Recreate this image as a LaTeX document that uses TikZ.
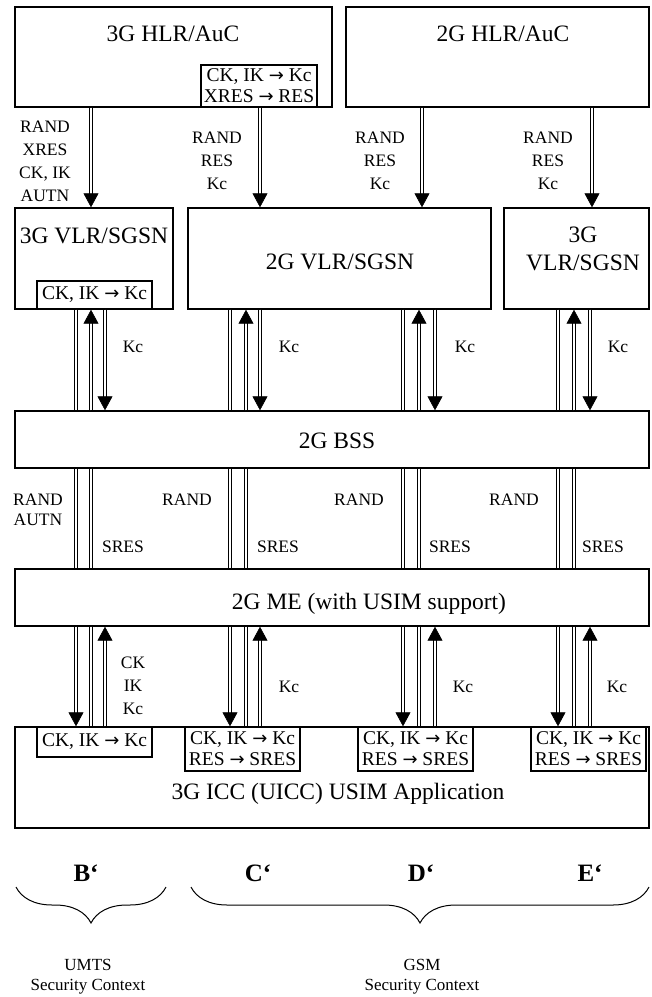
\documentclass[tikz,border=0pt]{standalone}
\usepackage{fontspec}
\setmainfont{Liberation Serif}
\newfontfamily\arrowfont{DejaVu Sans}
\usetikzlibrary{arrows.meta,decorations.pathreplacing,decorations.markings}
\newcommand{\cto}{{\arrowfont\fontsize{18}{18}\selectfont →}}

\begin{document}
\begin{tikzpicture}[
    x=1pt, y=-1pt,
    box/.style={draw, line width=1.4pt, inner sep=0pt},
    conv/.style={draw, line width=1.2pt, fill=white, align=center, inner sep=1pt, font=\fontsize{19.5}{21}\selectfont},
    big/.style={align=center, font=\fontsize{23.5}{28}\selectfont},
    lbl/.style={align=center, font=\fontsize{17.5}{23}\selectfont},
    pipe/.style={double, double distance=2pt, line width=1.2pt},
    arrow/.style={pipe, shorten >=11pt, postaction={decorate, decoration={markings,
        mark=at position 1 with {\arrow[line width=0.6pt]{Triangle[width=15pt, length=14pt]}}}}},
    ctx/.style={font=\fontsize{25}{25}\selectfont\bfseries},
    brace/.style={line width=1pt, decorate, decoration={brace, mirror, amplitude=36pt}}
]
\useasboundingbox (0,0) rectangle (652,997);

% network elements
\node[box, minimum width=317pt, minimum height=100pt] (hlr3) at (173.5,57) {};
\node[box, minimum width=303pt, minimum height=100pt] (hlr2) at (497.5,57) {};
\node[box, minimum width=158pt, minimum height=101pt] (vlr3) at (94,258.5) {};
\node[box, minimum width=303pt, minimum height=101pt] (vlr2) at (339.5,258.5) {};
\node[box, minimum width=145pt, minimum height=101pt] (vlr3b) at (576.5,258.5) {};
\node[box, minimum width=634pt, minimum height=57pt] (bss) at (332,439.5) {};
\node[box, minimum width=634pt, minimum height=57pt] (me) at (332,597.5) {};
\node[box, minimum width=634pt, minimum height=101pt] (icc) at (332,777.5) {};

\node[big] (thlr3) at (173,34) {3G HLR/AuC};
\node[big] (thlr2) at (503,34) {2G HLR/AuC};
\node[big] (tvlr3) at (94,236) {3G VLR/SGSN};
\node[big] (tvlr2) at (340,262) {2G VLR/SGSN};
\node[big] (tvlr3b) at (583,249) {3G\\VLR/SGSN};
\node[big] (tbss) at (337,441) {2G BSS};
\node[big] (tme) at (369,604) {2G ME (with USIM support)};
\node[big] (ticc) at (338,794) {3G ICC (UICC) USIM Application};

% conversion functions
\node[conv, minimum width=116pt, minimum height=42pt] (cvhlr) at (259,86) {CK, IK \cto{} Kc\\XRES \cto{} RES};
\node[conv, minimum width=115pt, minimum height=28pt] (cvvlr) at (94.5,295) {CK, IK \cto{} Kc};
\node[conv, minimum width=115pt, minimum height=30pt] (cvu1) at (94.5,742) {CK, IK \cto{} Kc};
\node[conv, minimum width=115pt, minimum height=44pt] (cvu2) at (242.5,749) {CK, IK \cto{} Kc\\RES \cto{} SRES};
\node[conv, minimum width=115pt, minimum height=44pt] (cvu3) at (415.5,749) {CK, IK \cto{} Kc\\RES \cto{} SRES};
\node[conv, minimum width=115pt, minimum height=44pt] (cvu4) at (588.5,749) {CK, IK \cto{} Kc\\RES \cto{} SRES};

% columns
\coordinate (d1) at (91,0);  \coordinate (d2) at (260,0);
\coordinate (d3) at (422,0); \coordinate (d4) at (592,0);
\coordinate (a1) at (76,0);  \coordinate (b1) at (91,0);  \coordinate (c1) at (105,0);
\coordinate (a2) at (230,0); \coordinate (b2) at (246,0); \coordinate (c2) at (260,0);
\coordinate (a3) at (403,0); \coordinate (b3) at (419,0); \coordinate (c3) at (435,0);
\coordinate (a4) at (558,0); \coordinate (b4) at (574,0); \coordinate (c4) at (590,0);

% HLR -> VLR
\draw[arrow] (hlr3.south -| d1) -- (vlr3.north -| d1);
\draw[arrow] (hlr3.south -| d2) -- (vlr2.north -| d2);
\draw[arrow] (hlr2.south -| d3) -- (vlr2.north -| d3);
\draw[arrow] (hlr2.south -| d4) -- (vlr3b.north -| d4);

% VLR <-> BSS <-> ME <-> USIM
\foreach \v/\k in {vlr3/1, vlr2/2, vlr2/3, vlr3b/4} {
  \draw[pipe] (\v.south -| a\k) -- (bss.north -| a\k);
  \draw[arrow] (bss.north -| b\k) -- (\v.south -| b\k);
  \draw[arrow] (\v.south -| c\k) -- (bss.north -| c\k);
  \draw[pipe] (bss.south -| a\k) -- (me.north -| a\k);
  \draw[pipe] (bss.south -| b\k) -- (me.north -| b\k);
  \draw[arrow] (me.south -| a\k) -- (icc.north -| a\k);
  \draw[pipe] (me.south -| b\k) -- (icc.north -| b\k);
  \draw[arrow] (icc.north -| c\k) -- (me.south -| c\k);
}

% parameters
\node[lbl] (phlr1) at (45,161) {RAND\\XRES\\CK, IK\\AUTN};
\node[lbl] (phlr2) at (217,161) {RAND\\RES\\Kc};
\node[lbl] (phlr3) at (380,161) {RAND\\RES\\Kc};
\node[lbl] (phlr4) at (548,161) {RAND\\RES\\Kc};
\node[lbl] (pvlr1) at (133,347) {Kc};
\node[lbl] (pvlr2) at (289,347) {Kc};
\node[lbl] (pvlr3) at (465,347) {Kc};
\node[lbl] (pvlr4) at (618,347) {Kc};
\node[lbl, font=\fontsize{17.5}{20}\selectfont] (pbss1) at (38,510) {RAND\\AUTN};
\node[lbl] (pbss2) at (187,500) {RAND};
\node[lbl] (pbss3) at (359,500) {RAND};
\node[lbl] (pbss4) at (514,500) {RAND};
\node[lbl] (pme1) at (123,547) {SRES};
\node[lbl] (pme2) at (278,547) {SRES};
\node[lbl] (pme3) at (450,547) {SRES};
\node[lbl] (pme4) at (603,547) {SRES};
\node[lbl] (pusim1) at (133,686) {CK\\IK\\Kc};
\node[lbl] (pusim2) at (289,687) {Kc};
\node[lbl] (pusim3) at (463,687) {Kc};
\node[lbl] (pusim4) at (617,687) {Kc};

% security contexts
\node[ctx] (sb) at (86,873) {B‘};
\node[ctx] (sc) at (258,873) {C‘};
\node[ctx] (sd) at (421,873) {D‘};
\node[ctx] (se) at (590,873) {E‘};
\draw[brace] (16,887) -- (166,887);
\draw[brace] (191,887) -- (649,887);
\node[lbl, font=\fontsize{17}{20}\selectfont] (umts) at (88,977) {UMTS\\Security Context};
\node[lbl, font=\fontsize{17}{20}\selectfont] (gsm) at (422,977) {GSM\\Security Context};
\end{tikzpicture}
\end{document}
